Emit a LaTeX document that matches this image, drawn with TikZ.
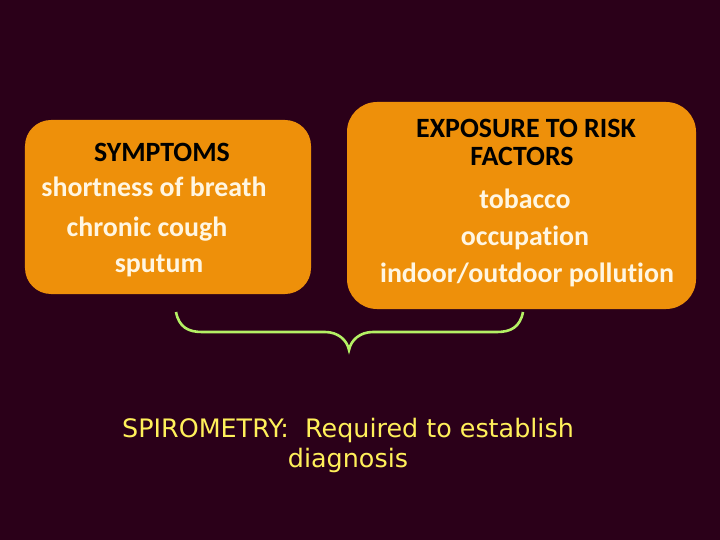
\documentclass[tikz,border=0pt]{standalone}
\usepackage{fontspec}
\setmainfont{Carlito}[Ligatures=NoCommon]
\newfontfamily\spirofont{DejaVu Sans}
\definecolor{slidebg}{HTML}{2B0019}
\definecolor{boxorange}{HTML}{EE900A}
\definecolor{itemcream}{HTML}{FFF6E2}
\definecolor{bracegreen}{HTML}{B4F064}
\definecolor{spiroyellow}{HTML}{FFF05A}

\begin{document}
\begin{tikzpicture}[x=1bp,y=1bp,
  orangebox/.style={fill=boxorange,draw=none,rounded corners=26bp,inner sep=0pt},
  head/.style={anchor=base,inner sep=0pt,text=black,font=\bfseries\fontsize{28}{34}\selectfont},
  item/.style={anchor=base,inner sep=0pt,text=itemcream,font=\bfseries\fontsize{28}{34}\selectfont},
  spiro/.style={anchor=base,inner sep=0pt,text=spiroyellow,font=\spirofont\fontsize{25.5}{30}\selectfont}]
\fill [slidebg] (0,0) rectangle (720,-540);
\useasboundingbox (0,0) rectangle (720,-540);
% boxes
\node [orangebox,minimum width=286bp,minimum height=174bp] (symbox) at (168,-207) {};
\node [orangebox,minimum width=349bp,minimum height=207bp,rounded corners=30bp] (riskbox) at (521.5,-205.5) {};
% symptoms
\node [head] (symptoms) at (162,-162) {SYMPTOMS};
\node [item] (breath) at (154,-197) {shortness of breath};
\node [item] (cough) at (147,-237) {chronic cough};
\node [item] (sputum) at (159,-273) {sputum};
% risk factors
\node [head] (exposure) at (526,-138) {EXPOSURE TO RISK};
\node [head] (factors) at (522,-166) {FACTORS};
\node [item] (tobacco) at (525,-209) {tobacco};
\node [item] (occupation) at (525,-246) {occupation};
\node [item] (pollution) at (527,-283) {indoor/outdoor pollution};
% brace
\coordinate (braceL) at (176,-312);
\coordinate (braceM) at (349,-350);
\coordinate (braceR) at (523,-312);
\draw [bracegreen,line width=2.6bp]
  (braceL) .. controls (179,-327) and (188,-332) .. (202,-332) -- (325,-332)
  .. controls (338,-332) and (347,-340) .. (braceM)
  .. controls (351,-340) and (360,-332) .. (373,-332) -- (497,-332)
  .. controls (511,-332) and (520,-327) .. (braceR);
% spirometry
\node [spiro] (spiro) at (348,-437) {SPIROMETRY:\ \ Required to establish};
\node [spiro] (diag) at (348,-467) {diagnosis};
\end{tikzpicture}
\end{document}
